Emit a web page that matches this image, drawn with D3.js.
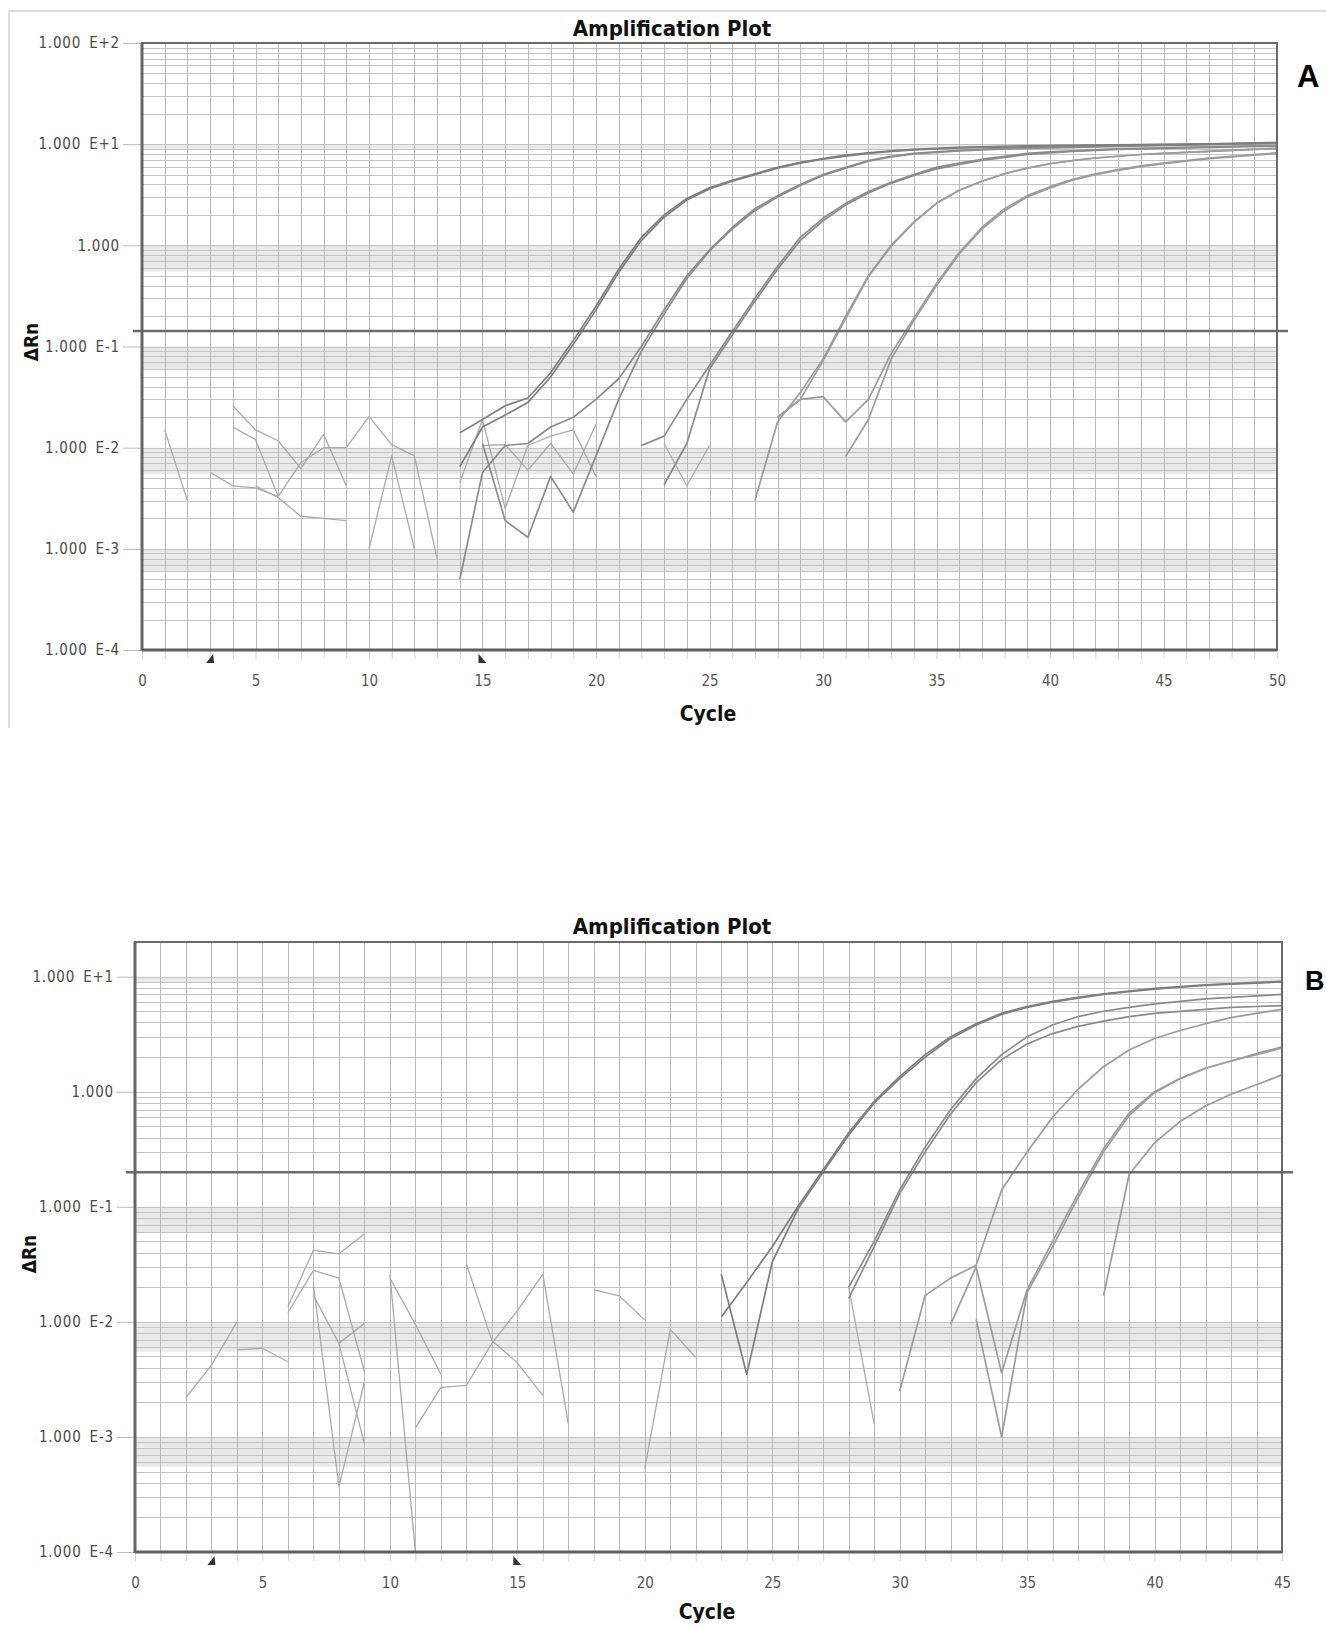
<!DOCTYPE html>
<html>
<head>
<meta charset="utf-8">
<script src="https://cdn.jsdelivr.net/npm/d3@7"></script>
<style>
  html, body { margin: 0; padding: 0; background: #fff; }
  svg { display: block; }
</style>
</head>
<body>
<svg id="chart" width="1326" height="1627"></svg>
<script>
// ---------------- DATA ----------------
// Panel A axes
const titleText = "Amplification Plot";
const xLabelText = "Cycle";
const yLabelText = "\u0394Rn";
const xTicksA = [0, 5, 10, 15, 20, 25, 30, 35, 40, 45, 50];
const yTickValuesA = [1e-4, 1e-3, 1e-2, 1e-1, 1, 10, 100];
const yTickLabelsA = ["1.000 E-4", "1.000 E-3", "1.000 E-2", "1.000 E-1", "1.000", "1.000 E+1", "1.000 E+2"];
const thresholdA = 0.142;

// Panel B axes
const xTicksB = [0, 5, 10, 15, 20, 25, 30, 35, 40, 45];
const yTickValuesB = [1e-4, 1e-3, 1e-2, 1e-1, 1, 10];
const yTickLabelsB = ["1.000 E-4", "1.000 E-3", "1.000 E-2", "1.000 E-1", "1.000", "1.000 E+1"];
const thresholdB = 0.2;

// Panel A series: [start cycle], values at consecutive cycles
const A1a_start = 14;
const A1a = [0.014, 0.019, 0.026, 0.031, 0.055, 0.115, 0.25, 0.58, 1.2, 2.0, 2.9, 3.7, 4.4, 5.1, 5.9, 6.6, 7.2, 7.8, 8.2, 8.6, 8.9, 9.1, 9.3, 9.4, 9.5, 9.6, 9.7, 9.75, 9.8, 9.85, 9.9, 9.95, 10.0, 10.1, 10.2, 10.3, 10.4];
const A1b_start = 14;
const A1b = [0.0065, 0.016, 0.021, 0.028, 0.05, 0.105, 0.23, 0.54, 1.12, 1.9, 2.8, 3.6, 4.3, 5.0, 5.8, 6.5, 7.1, 7.6, 8.1, 8.5, 8.8, 9.0, 9.2, 9.3, 9.4, 9.5, 9.6, 9.7, 9.75, 9.8, 9.85, 9.9, 9.95, 10.0, 10.1, 10.2, 10.3];
const A2a_start = 14;
const A2a = [0.0005, 0.0057, 0.0105, 0.011, 0.016, 0.02, 0.03, 0.048, 0.1, 0.23, 0.5, 0.9, 1.5, 2.3, 3.1, 4.0, 5.0, 5.9, 6.9, 7.6, 8.1, 8.4, 8.7, 8.9, 9.1, 9.2, 9.3, 9.4, 9.5, 9.6, 9.7, 9.8, 9.9, 10.0, 10.1, 10.2, 10.3];
const A2b_start = 15;
const A2b = [0.011, 0.0019, 0.0013, 0.0052, 0.0023, 0.0083, 0.03, 0.09, 0.21, 0.47, 0.88, 1.45, 2.2, 3.0, 3.9, 4.9, 5.8, 6.8, 7.5, 8.0, 8.3, 8.6, 8.8, 9.0, 9.1, 9.2, 9.3, 9.4, 9.5, 9.6, 9.7, 9.8, 9.9, 10.0, 10.1, 10.2];
const A3a_start = 22;
const A3a = [0.0105, 0.013, 0.03, 0.065, 0.14, 0.3, 0.62, 1.2, 1.85, 2.6, 3.4, 4.2, 5.0, 5.9, 6.5, 7.1, 7.6, 8.1, 8.4, 8.6, 8.8, 9.0, 9.1, 9.2, 9.3, 9.4, 9.5, 9.6, 9.7];
const A3b_start = 23;
const A3b = [0.0043, 0.011, 0.06, 0.13, 0.28, 0.58, 1.12, 1.75, 2.5, 3.3, 4.1, 4.9, 5.7, 6.3, 6.9, 7.4, 7.9, 8.2, 8.5, 8.7, 8.9, 9.0, 9.1, 9.2, 9.3, 9.4, 9.5, 9.6];
const A3c_start = 23;
const A3c = [0.011, 0.0042, 0.0105];
const A4a_start = 27;
const A4a = [0.003, 0.018, 0.035, 0.075, 0.2, 0.5, 1.0, 1.7, 2.6, 3.5, 4.3, 5.1, 5.8, 6.4, 6.9, 7.3, 7.6, 7.9, 8.1, 8.3, 8.5, 8.7, 8.9, 9.1];
const A4b_start = 28;
const A4b = [0.02, 0.03, 0.072, 0.19, 0.49, 0.98, 1.68, 2.6, 3.5, 4.3, 5.1, 5.8, 6.4, 6.9, 7.3, 7.6, 7.9, 8.1, 8.3, 8.5, 8.7, 8.9, 9.1];
const A5a_start = 28;
const A5a = [0.02, 0.03, 0.032, 0.018, 0.03, 0.085, 0.19, 0.42, 0.85, 1.5, 2.3, 3.1, 3.8, 4.5, 5.1, 5.6, 6.1, 6.5, 6.9, 7.3, 7.6, 7.9, 8.2];
const A5b_start = 31;
const A5b = [0.0082, 0.019, 0.075, 0.18, 0.4, 0.82, 1.45, 2.2, 3.0, 3.7, 4.4, 5.0, 5.5, 6.0, 6.4, 6.8, 7.2, 7.5, 7.8, 8.1];
// Panel A baseline noise
const An1_start = 1;   const An1 = [0.015, 0.003];
const An3_start = 3;   const An3 = [0.0057, 0.0042, 0.004, 0.0033];
const An4a_start = 4;  const An4a = [0.026, 0.015, 0.0117, 0.0062, 0.0135, 0.0042];
const An4b_start = 4;  const An4b = [0.016, 0.012, 0.0033, 0.0071, 0.01, 0.01];
const An5_start = 5;   const An5 = [0.0042, 0.0032, 0.0021, 0.002, 0.0019];
const An9_start = 9;   const An9 = [0.01, 0.0203, 0.0107, 0.0083, 0.0008];
const An10_start = 10; const An10 = [0.001, 0.0083, 0.001];
const An14_start = 14; const An14 = [0.0045, 0.019, 0.0025, 0.0105, 0.013, 0.015, 0.0052];
const An15_start = 15; const An15 = [0.0105, 0.0107, 0.006, 0.011, 0.0055, 0.017];

// Panel B series
const B1a_start = 23;
const B1a = [0.011, 0.022, 0.045, 0.1, 0.21, 0.44, 0.82, 1.35, 2.1, 3.0, 3.9, 4.8, 5.5, 6.1, 6.6, 7.1, 7.5, 7.9, 8.2, 8.5, 8.7, 8.9, 9.1];
const B1b_start = 23;
const B1b = [0.026, 0.0035, 0.033, 0.095, 0.2, 0.42, 0.8, 1.3, 2.0, 2.9, 3.8, 4.7, 5.4, 6.0, 6.5, 7.0, 7.4, 7.8, 8.1, 8.4, 8.6, 8.8, 9.0];
const B2a_start = 28;
const B2a = [0.02, 0.05, 0.14, 0.33, 0.7, 1.3, 2.1, 3.0, 3.8, 4.5, 5.0, 5.4, 5.8, 6.1, 6.4, 6.6, 6.8, 7.0];
const B2b_start = 28;
const B2b = [0.016, 0.045, 0.13, 0.3, 0.64, 1.2, 1.9, 2.6, 3.2, 3.7, 4.1, 4.5, 4.8, 5.0, 5.2, 5.4, 5.5, 5.6];
const B3a_start = 30;
const B3a = [0.0025, 0.017, 0.024, 0.031, 0.14, 0.3, 0.6, 1.05, 1.65, 2.3, 2.9, 3.4, 3.9, 4.4, 4.8, 5.2];
const B4a_start = 33;
const B4a = [0.0105, 0.001, 0.018, 0.045, 0.12, 0.3, 0.62, 0.98, 1.3, 1.6, 1.85, 2.15, 2.45];
const B4b_start = 32;
const B4b = [0.0095, 0.03, 0.0036, 0.019, 0.05, 0.13, 0.32, 0.65, 1.0, 1.3, 1.6, 1.85, 2.1, 2.4];
const B5a_start = 38;
const B5a = [0.017, 0.19, 0.36, 0.55, 0.75, 0.95, 1.15, 1.4];
// Panel B baseline noise
const Bn2_start = 2;   const Bn2 = [0.0022, 0.0042, 0.01];
const Bn4_start = 4;   const Bn4 = [0.0057, 0.0059, 0.0045];
const Bn6a_start = 6;  const Bn6a = [0.0135, 0.042, 0.039, 0.058];
const Bn6b_start = 6;  const Bn6b = [0.012, 0.028, 0.024, 0.0037];
const Bn7b_start = 7;  const Bn7b = [0.021, 0.00037, 0.003];
const Bn7c_start = 7;  const Bn7c = [0.017, 0.0065, 0.0097];
const Bn8_start = 8;   const Bn8 = [0.0065, 0.00087];
const Bn10a_start = 10; const Bn10a = [0.026, 0.0001];
const Bn10b_start = 10; const Bn10b = [0.024, 0.0095, 0.0035];
const Bn11_start = 11; const Bn11 = [0.0012, 0.0027, 0.0028, 0.0065, 0.0125, 0.026, 0.0013];
const Bn13_start = 13; const Bn13 = [0.032, 0.0069, 0.0044, 0.0023];
const Bn18_start = 18; const Bn18 = [0.019, 0.0168, 0.0104];
const Bn20_start = 20; const Bn20 = [0.00053, 0.0086, 0.0049];
const Bn28_start = 28; const Bn28 = [0.02, 0.0013];

// ---------------- DRAWING ----------------
const FONT = "'Liberation Sans Narrow','DejaVu Sans Condensed','Liberation Sans',Arial,sans-serif";
const svg = d3.select("#chart");

const C_DARK = "#7e7e7e", C_MID = "#8b8b8b", C_LIGHT = "#9c9c9c", C_NOISE = "#aaaaaa";

const seriesA = [
  [An1_start, An1, C_NOISE], [An3_start, An3, C_NOISE], [An4a_start, An4a, C_NOISE], [An4b_start, An4b, C_NOISE],
  [An5_start, An5, C_NOISE], [An9_start, An9, C_NOISE], [An10_start, An10, C_NOISE], [An14_start, An14, C_NOISE],
  [An15_start, An15, C_NOISE], [A3c_start, A3c, C_NOISE],
  [A5a_start, A5a, C_LIGHT], [A5b_start, A5b, C_LIGHT], [A4a_start, A4a, C_LIGHT], [A4b_start, A4b, C_LIGHT],
  [A3a_start, A3a, C_MID], [A3b_start, A3b, C_MID],
  [A2a_start, A2a, C_MID], [A2b_start, A2b, C_MID], [A1a_start, A1a, C_DARK], [A1b_start, A1b, C_DARK]
];
const seriesB = [
  [Bn2_start, Bn2, C_NOISE], [Bn4_start, Bn4, C_NOISE], [Bn6a_start, Bn6a, C_NOISE], [Bn6b_start, Bn6b, C_NOISE],
  [Bn7b_start, Bn7b, C_NOISE], [Bn7c_start, Bn7c, C_NOISE], [Bn8_start, Bn8, C_NOISE], [Bn10a_start, Bn10a, C_NOISE],
  [Bn10b_start, Bn10b, C_NOISE], [Bn11_start, Bn11, C_NOISE], [Bn13_start, Bn13, C_NOISE], [Bn18_start, Bn18, C_NOISE],
  [Bn20_start, Bn20, C_NOISE], [Bn28_start, Bn28, C_NOISE],
  [B5a_start, B5a, C_LIGHT], [B4a_start, B4a, C_LIGHT], [B4b_start, B4b, C_LIGHT], [B3a_start, B3a, C_LIGHT],
  [B2a_start, B2a, C_MID], [B2b_start, B2b, C_MID], [B1a_start, B1a, C_DARK], [B1b_start, B1b, C_DARK]
];

// outer frame of panel A (screenshot border)
svg.append("line").attr("x1", 9).attr("x2", 1326).attr("y1", 11).attr("y2", 11).attr("stroke", "#dddddd").attr("stroke-width", 2);
svg.append("line").attr("x1", 9).attr("x2", 9).attr("y1", 11).attr("y2", 728).attr("stroke", "#dddddd").attr("stroke-width", 2);

function drawPanel(p, id) {
  const x = d3.scaleLinear().domain([0, p.xMax]).range([p.left, p.right]);
  const y = d3.scaleLog().domain([p.yMin, p.yMax]).range([p.bottom, p.top]);
  const g = svg.append("g");

  // bands (dense minor-grid areas just below decades)
  p.bands.forEach(b => {
    const v0 = Math.pow(10, b[0]);
    g.append("rect").attr("x", p.left).attr("width", p.right - p.left)
      .attr("y", y(v0)).attr("height", y(v0 * b[1]) - y(v0)).attr("fill", "#e9e9e9");
  });

  // horizontal grid (log minor)
  const hv = [];
  for (let k = -4; k <= 2; k++) for (let m = 1; m <= 9; m++) {
    const v = m * Math.pow(10, k);
    if (v > p.yMin * 1.0001 && v < p.yMax * 0.9999) hv.push(v);
  }
  g.selectAll(null).data(hv).join("line")
    .attr("x1", p.left).attr("x2", p.right)
    .attr("y1", d => Math.round(y(d)) + 0.5).attr("y2", d => Math.round(y(d)) + 0.5)
    .attr("stroke", "#c4c4c4").attr("stroke-width", 1);

  // vertical grid at each cycle
  const vc = d3.range(1, p.xMax);
  g.selectAll(null).data(vc).join("line")
    .attr("x1", d => Math.round(x(d)) + 0.5).attr("x2", d => Math.round(x(d)) + 0.5)
    .attr("y1", p.top).attr("y2", p.bottom)
    .attr("stroke", "#bababa").attr("stroke-width", 1);

  // X axis (ticks at every cycle, labels every 5)
  const xAxis = d3.axisBottom(x).tickValues(d3.range(0, p.xMax + 1))
    .tickFormat(d => (p.xTicks.indexOf(d) >= 0 ? String(d) : "")).tickSize(9).tickPadding(16);
  const gx = g.append("g").attr("transform", `translate(0,${p.bottom})`).call(xAxis);
  gx.select(".domain").remove();
  gx.selectAll(".tick line").attr("stroke", "#d3d3d3");
  gx.selectAll(".tick text").attr("fill", "#555").style("font-family", FONT).style("font-size", "15px");

  // Y axis
  const yAxis = d3.axisLeft(y).tickValues(p.yTicks).tickFormat((d, i) => p.yLabels[i]).tickSize(p.tickLen).tickPadding(3);
  const gy = g.append("g").attr("transform", `translate(${p.left},0)`).call(yAxis);
  gy.select(".domain").remove();
  gy.selectAll(".tick line").attr("stroke", "#bbbbbb");
  gy.selectAll(".tick text").attr("fill", "#4a4a4a").style("font-family", FONT).style("font-size", "15px")
    .style("letter-spacing", "0.8px").style("word-spacing", "3px");

  // Clip for curves
  svg.append("defs").append("clipPath").attr("id", "clip" + id)
    .append("rect").attr("x", p.left).attr("y", p.top).attr("width", p.right - p.left).attr("height", p.bottom - p.top);

  const line = d3.line().x(d => x(d[0])).y(d => y(Math.max(d[1], p.yMin * 0.5)));
  const gl = g.append("g").attr("clip-path", `url(#clip${id})`);
  p.series.forEach(s => {
    const pts = s[1].map((v, i) => [s[0] + i, v]);
    gl.append("path").attr("d", line(pts)).attr("fill", "none")
      .attr("stroke", s[2]).attr("stroke-width", s[2] === C_NOISE ? 1.3 : 1.7)
      .attr("stroke-linejoin", "round");
  });

  // Threshold line
  g.append("line").attr("x1", p.left - 9).attr("x2", p.right + 11)
    .attr("y1", y(p.threshold)).attr("y2", y(p.threshold))
    .attr("stroke", "#6c6c6c").attr("stroke-width", 2.5);

  // Plot border
  g.append("rect").attr("x", p.left).attr("y", p.top).attr("width", p.right - p.left).attr("height", p.bottom - p.top)
    .attr("fill", "none").attr("stroke", "#6a6a6a").attr("stroke-width", 2);
  g.append("line").attr("x1", p.left).attr("x2", p.left).attr("y1", p.top).attr("y2", p.bottom + 1)
    .attr("stroke", "#666").attr("stroke-width", 3);
  g.append("line").attr("x1", p.left).attr("x2", p.right).attr("y1", p.bottom).attr("y2", p.bottom)
    .attr("stroke", "#5e5e5e").attr("stroke-width", 3);

  // baseline start/end markers
  const mx1 = x(3), mx2 = x(15), my = p.bottom + 4;
  g.append("path").attr("d", `M${mx1 - 4},${my + 9}L${mx1 + 3},${my}L${mx1 + 4},${my + 9}Z`).attr("fill", "#333");
  g.append("path").attr("d", `M${mx2 - 4},${my}L${mx2 + 4},${my + 9}L${mx2 - 4},${my + 9}Z`).attr("fill", "#333");

  // Title
  g.append("text").attr("x", p.titleX).attr("y", p.titleY).attr("text-anchor", "middle")
    .style("font-family", FONT).style("font-weight", "bold").style("font-size", "22px").attr("fill", "#111")
    .text(titleText);
  // X label
  g.append("text").attr("x", p.xlabX).attr("y", p.xlabY).attr("text-anchor", "middle")
    .style("font-family", FONT).style("font-weight", "bold").style("font-size", "21px").attr("fill", "#111")
    .text(xLabelText);
  // Y label
  g.append("text").attr("transform", `translate(${p.ylabX},${p.ylabY}) rotate(-90)`).attr("text-anchor", "middle")
    .attr("dy", "0.35em")
    .style("font-family", FONT).style("font-weight", "bold").style("font-size", "19px").attr("fill", "#111")
    .text(yLabelText);
  // Panel letter
  g.append("text").attr("x", p.letterX).attr("y", p.letterY)
    .style("font-family", "'Liberation Sans',Arial,sans-serif").style("font-weight", "bold").style("font-size", p.letterSize).attr("fill", "#000")
    .text(p.letter);
}

drawPanel({
  left: 142, right: 1277, top: 43, bottom: 650, xMax: 50, yMin: 1e-4, yMax: 100,
  xTicks: xTicksA, yTicks: yTickValuesA, yLabels: yTickLabelsA, tickLen: 19,
  bands: [[1, 0.88], [0, 0.55], [-1, 0.6], [-2, 0.55], [-3, 0.6]],
  threshold: thresholdA, series: seriesA,
  titleX: 672, titleY: 36, xlabX: 708, xlabY: 721, ylabX: 31, ylabY: 342,
  letter: "A", letterX: 1297, letterY: 87, letterSize: "31px"
}, "A");

drawPanel({
  left: 135, right: 1282, top: 942, bottom: 1552, xMax: 45, yMin: 1e-4, yMax: 20,
  xTicks: xTicksB, yTicks: yTickValuesB, yLabels: yTickLabelsB, tickLen: 18,
  bands: [[1, 0.88], [-1, 0.6], [-2, 0.55], [-3, 0.55]],
  threshold: thresholdB, series: seriesB,
  titleX: 672, titleY: 934, xlabX: 707, xlabY: 1619, ylabX: 29, ylabY: 1254,
  letter: "B", letterX: 1305, letterY: 990, letterSize: "27px"
}, "B");
</script>
</body>
</html>
